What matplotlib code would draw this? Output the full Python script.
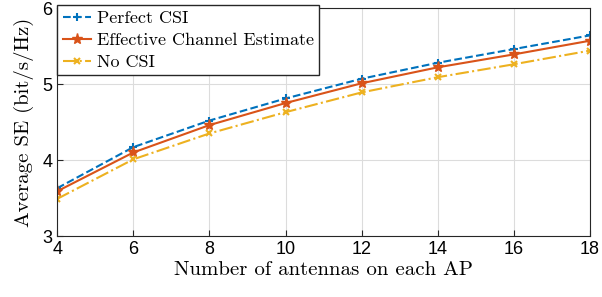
import matplotlib
matplotlib.use("Agg")
import matplotlib.pyplot as plt

antennas = [4, 6, 8, 10, 12, 14, 16, 18]
se_perfect = [3.63, 4.17, 4.52, 4.81, 5.07, 5.28, 5.46, 5.64]
se_effective = [3.59, 4.10, 4.46, 4.75, 5.01, 5.22, 5.39, 5.57]
se_nocsi = [3.49, 4.01, 4.35, 4.63, 4.89, 5.09, 5.26, 5.44]

fig = plt.figure(figsize=(6.02, 2.97), dpi=100)
ax = fig.add_axes([0.095, 0.205, 0.885, 0.768])

ax.plot(antennas, se_perfect, '--', color='#0072BD', marker='+', ms=6, mew=1.5, lw=1.5,
        label='Perfect CSI')
ax.plot(antennas, se_effective, '-', color='#D95319', marker='*', ms=8, lw=1.5,
        label='Effective Channel Estimate')
ax.plot(antennas, se_nocsi, '-.', color='#EDB120', marker='x', ms=5, mew=1.5, lw=1.5,
        label='No CSI')

ax.set_xlim(4, 18)
ax.set_ylim(3, 6)
ax.set_xticks(range(4, 19, 2))
ax.set_yticks([3, 4, 5, 6])
ax.grid(True, color='#dcdcdc', lw=0.8)
ax.tick_params(direction='in', labelsize=13, length=4, color='#262626')
for lab in ax.get_xticklabels() + ax.get_yticklabels():
    lab.set_family('Liberation Sans')
for s in ax.spines.values():
    s.set_color('#262626')

serif = {'family': 'cmr10', 'size': 15}
ax.set_xlabel('Number of antennas on each AP', fontdict=serif, labelpad=2)
ax.set_ylabel('Average SE (bit/s/Hz)', fontdict=serif, labelpad=6)

leg = ax.legend(loc='upper left', bbox_to_anchor=(0.0, 1.013),
                prop={'family': 'cmr10', 'size': 13},
                fancybox=False, framealpha=1, borderaxespad=0.0,
                handlelength=1.6, handletextpad=0.3, labelspacing=0.35,
                borderpad=0.3)
leg.get_frame().set_edgecolor('#262626')

fig.savefig('out.png', dpi=100)
